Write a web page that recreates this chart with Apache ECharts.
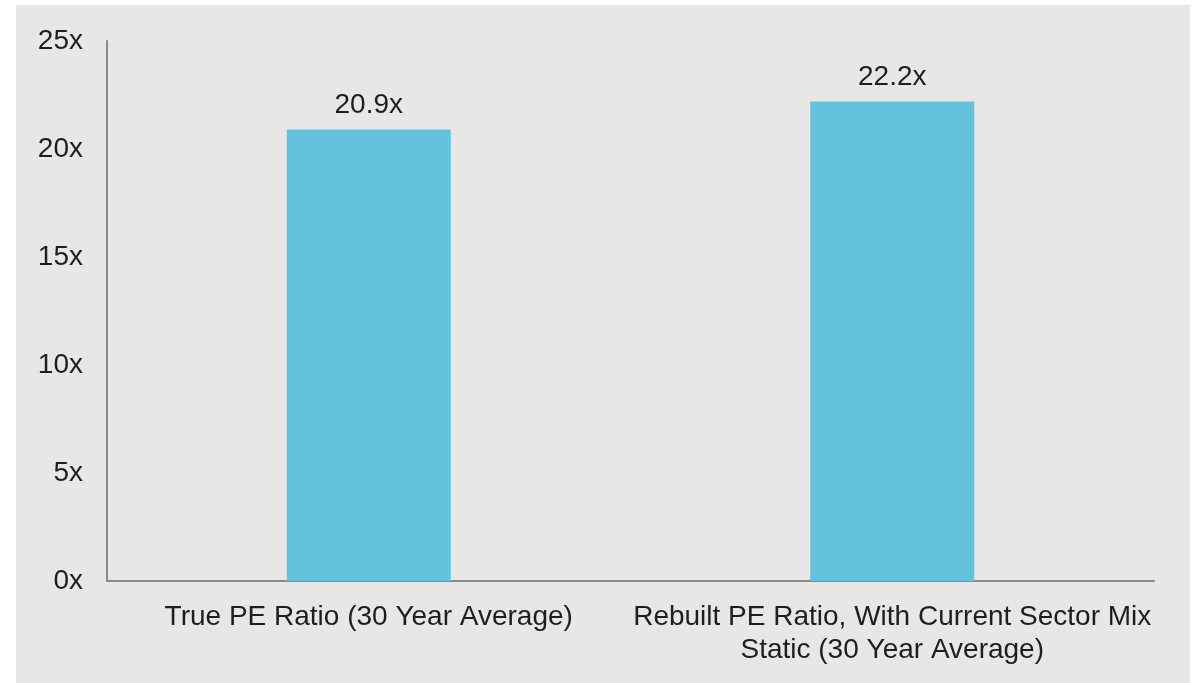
<!DOCTYPE html>
<html>
<head>
<meta charset="utf-8">
<script src="https://cdn.jsdelivr.net/npm/echarts@6/dist/echarts.min.js"></script>
<style>
  html, body { margin: 0; padding: 0; background: #fff; }
  #chart { width: 1201px; height: 683px; }
</style>
</head>
<body>
<div id="chart"></div>
<script>
// categories and values
const categories = [
  'True PE Ratio (30 Year Average)',
  'Rebuilt PE Ratio, With Current Sector Mix\nStatic (30 Year Average)'
]
const peValues = [20.9, 22.2]
const yTicks = [0, 5, 10, 15, 20, 25]

const chart = echarts.init(document.getElementById('chart'))
const font = "'Liberation Sans', Arial, sans-serif"

chart.setOption({
  backgroundColor: '#ffffff',
  animation: false,
  graphic: [{
    type: 'rect',
    left: 16, top: 5,
    shape: { width: 1174, height: 678 },
    style: { fill: '#e8e7e6' },
    z: -10
  }],
  grid: { left: 107, right: 47, top: 41, bottom: 102, containLabel: false },
  xAxis: {
    type: 'category',
    data: categories,
    axisLine: { lineStyle: { color: '#8a8a8a', width: 2 } },
    axisTick: { show: false },
    axisLabel: {
      color: '#1e1e1e', fontSize: 28, fontFamily: font,
      margin: 20, lineHeight: 33, interval: 0
    }
  },
  yAxis: {
    type: 'value',
    min: yTicks[0], max: yTicks[yTicks.length - 1], interval: 5,
    splitLine: { show: false },
    axisLine: { show: true, lineStyle: { color: '#8a8a8a', width: 2 } },
    axisTick: { show: false },
    axisLabel: {
      color: '#1e1e1e', fontSize: 28, fontFamily: font, margin: 24,
      padding: [4, 0, 0, 0],
      formatter: v => v + 'x'
    }
  },
  series: [{
    type: 'bar',
    data: peValues,
    barWidth: 164,
    itemStyle: { color: '#63c3de' },
    label: {
      show: true, position: 'top', distance: 10,
      color: '#1e1e1e', fontSize: 28, fontFamily: font,
      formatter: p => p.value.toFixed(1) + 'x'
    }
  }]
})
</script>
</body>
</html>
